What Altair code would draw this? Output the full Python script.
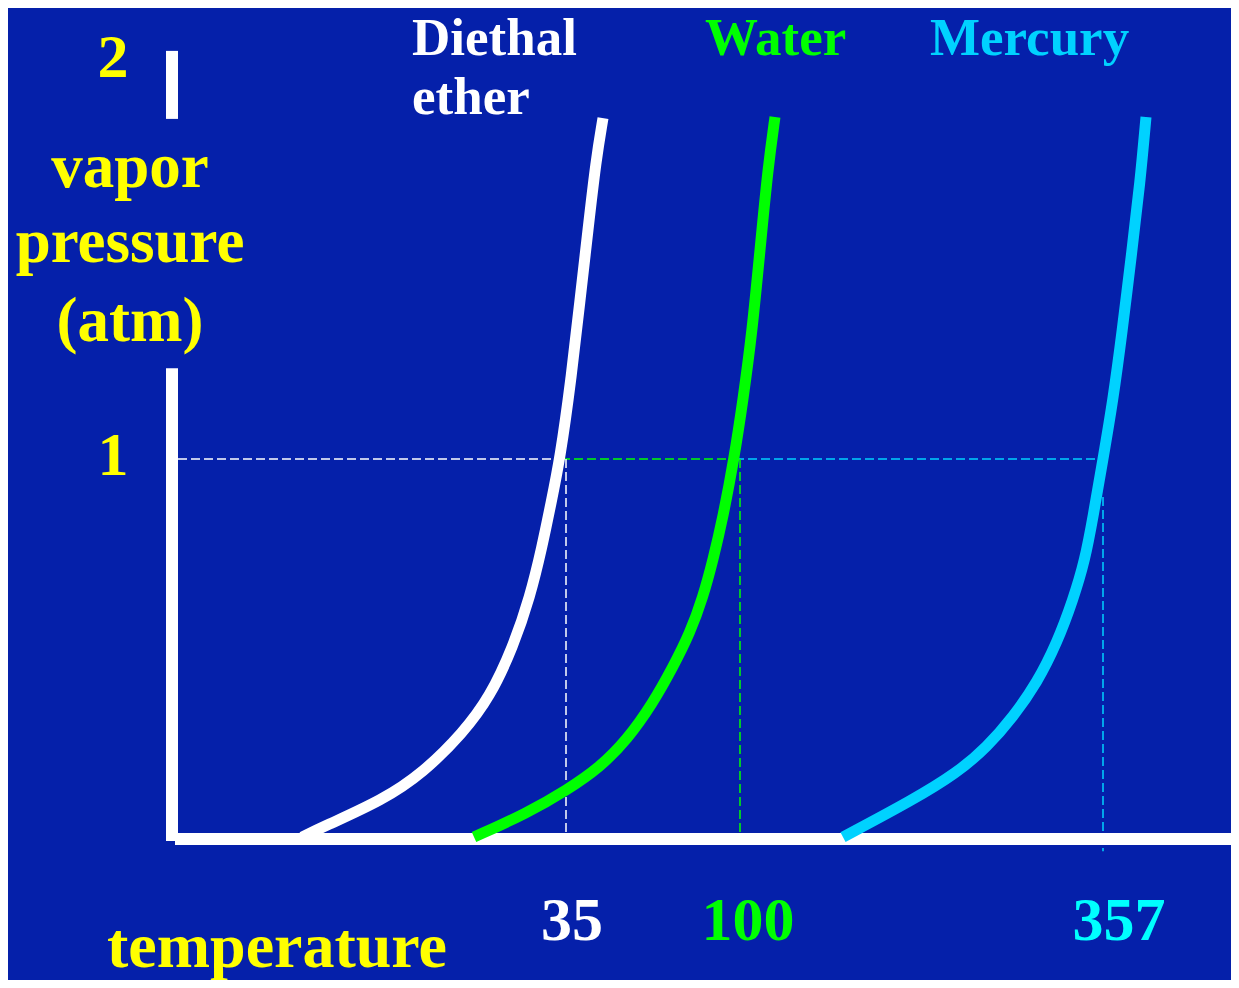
import altair as alt
import pandas as pd

# ---------------- data ----------------
# x: schematic temperature position along the axis (arbitrary units), y: vapor pressure (atm)
substances = ["Diethal ether", "Water", "Mercury"]
curve_colors = ["#FFFFFF", "#00FF00", "#00D2FF"]

ether_x = [130, 151, 211, 251, 291, 318, 341, 358, 370, 379, 388, 399, 408, 416, 424, 431]
ether_p = [0.005, 0.032, 0.103, 0.174, 0.279, 0.374, 0.505, 0.637, 0.768, 0.884, 1.0,
           1.208, 1.418, 1.603, 1.787, 1.897]

water_x = [302, 355, 395, 428, 455, 481, 501, 518, 531, 541, 551, 562, 571, 580, 588, 596, 603]
water_p = [0.005, 0.068, 0.129, 0.189, 0.261, 0.358, 0.453, 0.542, 0.637, 0.734, 0.847, 1.0,
           1.155, 1.332, 1.55, 1.768, 1.9]

mercury_x = [671, 741, 785, 815, 841, 865, 885, 901, 913, 921, 931, 941, 950, 960, 968, 974]
mercury_p = [0.005, 0.103, 0.174, 0.242, 0.321, 0.411, 0.516, 0.629, 0.734, 0.847, 1.0,
             1.155, 1.332, 1.55, 1.726, 1.9]

# boiling points (1 atm) : axis position and label
boil_pos = [394, 568, 931]
boil_labels = ["35", "100", "357"]
boil_label_colors = ["#FFFFFF", "#00FF00", "#00FFFF"]
# horizontal guide segments at 1 atm
guide_start = [6, 389, 563]
guide_end = [389, 563, 928]
guide_top = [1.0, 1.0, 0.9]
guide_bottom = [-0.021, -0.011, -0.032]

y_tick_values = [2, 1]
y_tick_labels = ["2", "1"]
y_title_lines = ["vapor", "pressure", "(atm)"]
x_title = "temperature"
name_lines = [["Diethal", "ether"], ["Water"], ["Mercury"]]
name_colors = ["#FFFFFF", "#00FF00", "#00D2FF"]

# ---------------- tables ----------------
curves = pd.concat([
    pd.DataFrame({"t": ether_x, "p": ether_p, "substance": substances[0]}),
    pd.DataFrame({"t": water_x, "p": water_p, "substance": substances[1]}),
    pd.DataFrame({"t": mercury_x, "p": mercury_p, "substance": substances[2]}),
], ignore_index=True)

hguides = pd.DataFrame({"x": guide_start, "x2": guide_end, "y": [1.0] * 3, "substance": substances})
vguides = pd.DataFrame({"x": boil_pos, "y": guide_top, "y2": guide_bottom, "substance": substances})

axis_lines_v = pd.DataFrame({"x": [0, 0], "y": [-0.005, 1.895], "y2": [1.239, 2.074]})
axis_lines_h = pd.DataFrame({"x": [3], "x2": [1080], "y": [0]})

center_texts = pd.DataFrame({
    "x": [-59, -59, -42, -42, -42, 105] + [400, 576, 947],
    "y": [2.005, 0.958, 1.716, 1.518, 1.311, -0.336] + [-0.266] * 3,
    "label": y_tick_labels + y_title_lines + [x_title] + boil_labels,
    "color": ["#FFFF00"] * 6 + boil_label_colors,
    "size": [62, 62, 63, 63, 63, 64, 62, 62, 62],
})
left_texts = pd.DataFrame({
    "x": [240, 240, 533, 758],
    "y": [2.064, 1.909, 2.064, 2.064],
    "label": name_lines[0] + name_lines[1] + name_lines[2],
    "color": [name_colors[0], name_colors[0], name_colors[1], name_colors[2]],
    "size": [53, 53, 53, 53],
})

# ---------------- chart ----------------
xs = alt.Scale(domain=[0, 1059], nice=False, zero=False)
ys = alt.Scale(domain=[0, 2], nice=False, zero=False)
cs = alt.Scale(domain=substances, range=curve_colors)

hg = alt.Chart(hguides).mark_rule(strokeWidth=1.5, strokeDash=[9, 4]).encode(
    x=alt.X("x:Q", scale=xs, axis=None), x2="x2:Q",
    y=alt.Y("y:Q", scale=ys, axis=None),
    color=alt.Color("substance:N", scale=cs, legend=None),
)
vg = alt.Chart(vguides).mark_rule(strokeWidth=1.5, strokeDash=[9, 4]).encode(
    x=alt.X("x:Q", scale=xs, axis=None),
    y=alt.Y("y:Q", scale=ys, axis=None), y2="y2:Q",
    color=alt.Color("substance:N", scale=cs, legend=None),
)
av = alt.Chart(axis_lines_v).mark_rule(strokeWidth=12, color="#FFFFFF", strokeCap="butt").encode(
    x=alt.X("x:Q", scale=xs, axis=None),
    y=alt.Y("y:Q", scale=ys, axis=None), y2="y2:Q",
)
ah = alt.Chart(axis_lines_h).mark_rule(strokeWidth=12, color="#FFFFFF", strokeCap="butt").encode(
    x=alt.X("x:Q", scale=xs, axis=None), x2="x2:Q",
    y=alt.Y("y:Q", scale=ys, axis=None),
)
lines = alt.Chart(curves).mark_line(
    strokeWidth=11, strokeCap="butt", strokeJoin="round", interpolate="basis"
).encode(
    x=alt.X("t:Q", scale=xs, axis=None),
    y=alt.Y("p:Q", scale=ys, axis=None),
    color=alt.Color("substance:N", scale=cs, legend=None),
    detail="substance:N",
)
tc = alt.Chart(center_texts).mark_text(
    font="Liberation Serif", fontWeight="bold", align="center", baseline="alphabetic"
).encode(
    x=alt.X("x:Q", scale=xs, axis=None),
    y=alt.Y("y:Q", scale=ys, axis=None),
    text="label:N",
    color=alt.Color("color:N", scale=None),
    size=alt.Size("size:Q", scale=None),
)
tl = alt.Chart(left_texts).mark_text(
    font="Liberation Serif", fontWeight="bold", align="left", baseline="alphabetic"
).encode(
    x=alt.X("x:Q", scale=xs, axis=None),
    y=alt.Y("y:Q", scale=ys, axis=None),
    text="label:N",
    color=alt.Color("color:N", scale=None),
    size=alt.Size("size:Q", scale=None),
)

chart = alt.layer(hg, vg, av, ah, lines, tc, tl).properties(
    width=1059,
    height=760,
    background="#0520AA",
    padding={"left": 164, "top": 71, "right": 0, "bottom": 141},
    autosize=alt.AutoSizeParams(type="none"),
).configure_view(strokeWidth=0)

chart.save("out.html", embed_options={"renderer": "svg", "actions": False})
